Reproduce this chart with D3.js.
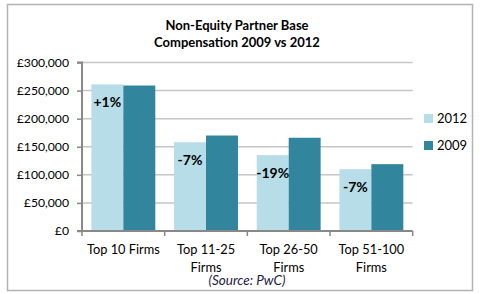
<!DOCTYPE html>
<html><head><meta charset="utf-8">
<script src="https://cdn.jsdelivr.net/npm/d3@7"></script>
<style>body{margin:0;background:#fff}svg{display:block}text{font-family:Lato,"Open Sans",sans-serif}</style>
</head><body>
<svg id="c" width="499" height="294"></svg>
<script>
const categories = ["Top 10 Firms", "Top 11-25 Firms", "Top 26-50 Firms", "Top 51-100 Firms"];
const categoryLines = [["Top 10 Firms"], ["Top 11-25", "Firms"], ["Top 26-50", "Firms"], ["Top 51-100", "Firms"]];
const seriesNames = ["2012", "2009"];
const values2012 = [261000, 158000, 135000, 110000];
const values2009 = [259000, 170000, 166000, 119000];
const changeLabels = ["+1%", "-7%", "-19%", "-7%"];
const yTicks = [0, 50000, 100000, 150000, 200000, 250000, 300000];
const titleLines = ["Non-Equity Partner Base", "Compensation 2009 vs 2012"];
const sourceText = "(Source: PwC)";
const colors = ["#b7dde8", "#31859c"];

const svg = d3.select("#c");
svg.append("rect").attr("x", 7.5).attr("y", 4.5).attr("width", 465).attr("height", 286)
  .attr("fill", "#fff").attr("stroke", "#b3b3b3").attr("stroke-width", 1.5);

const L = 82, R = 412.7, T = 62.5, B = 231;
const y = d3.scaleLinear().domain([0, 300000]).range([B, T]);
const x = d3.scaleBand().domain(categories).range([L, R]).paddingInner(0.227).paddingOuter(0.1135);
const xs = d3.scaleBand().domain(seriesNames).range([0, x.bandwidth()]);

// gridlines
svg.append("g").selectAll("line").data(yTicks.filter(d => d > 0)).join("line")
  .attr("x1", L).attr("x2", R).attr("y1", d => y(d)).attr("y2", d => y(d))
  .attr("stroke", "#c6c6c6").attr("stroke-width", 1.5);

// bars
const data = categories.map((c, i) => ({c, i, vals: [values2012[i], values2009[i]]}));
const g = svg.append("g").selectAll("g").data(data).join("g").attr("transform", d => `translate(${x(d.c)},0)`);
g.selectAll("rect").data(d => d.vals.map((v, k) => ({v, k}))).join("rect")
  .attr("x", d => xs(seriesNames[d.k])).attr("width", xs.bandwidth())
  .attr("y", d => y(d.v)).attr("height", d => B - y(d.v)).attr("fill", d => colors[d.k]);

// change labels
g.append("text").attr("x", xs("2012") + xs.bandwidth() / 2).attr("y", d => y(d.vals[0]) + 18)
  .attr("text-anchor", "middle").attr("dy", "0.35em").attr("font-weight", "bold").attr("font-size", 14)
  .attr("fill", "#000").text(d => changeLabels[d.i]);

// y axis
const ya = svg.append("g").attr("transform", `translate(${L},0)`)
  .call(d3.axisLeft(y).tickValues(yTicks).tickSize(5).tickPadding(8).tickFormat(d => "£" + d3.format(",")(d)));
ya.select(".domain").attr("stroke", "#888").attr("stroke-width", 2).attr("d", `M-5,${B}H0V${T}H-5`);
ya.selectAll(".tick line").attr("stroke", "#888").attr("stroke-width", 1.5);
ya.selectAll(".tick text").attr("font-size", 12.2).attr("fill", "#000").attr("font-family", "Lato");

// x axis
const xa = svg.append("g").attr("transform", `translate(0,${B})`);
xa.append("line").attr("x1", L).attr("x2", R).attr("stroke", "#888").attr("stroke-width", 2);
const step = x.step();
xa.selectAll(".tk").data(d3.range(categories.length + 1)).join("line").attr("class", "tk")
  .attr("x1", i => L + i * step).attr("x2", i => L + i * step).attr("y1", 0).attr("y2", 5)
  .attr("stroke", "#888").attr("stroke-width", 1.5);
xa.selectAll(".lbl").data(data).join("text").attr("class", "lbl")
  .attr("text-anchor", "middle").attr("font-size", 12.8).attr("fill", "#000")
  .attr("transform", d => `translate(${x(d.c) + x.bandwidth() / 2},0)`)
  .selectAll("tspan").data(d => categoryLines[d.i]).join("tspan")
  .attr("x", 0).attr("y", (d, k) => 22.5 + k * 18).text(d => d);

// title
svg.append("text").attr("x", 237).attr("y", 29.5).attr("text-anchor", "middle").attr("font-weight", "bold")
  .attr("font-size", 13).selectAll("tspan").data(titleLines).join("tspan")
  .attr("x", 237).attr("dy", (d, k) => k ? 17.5 : 0).text(d => d);

// legend
const lg = svg.append("g").selectAll("g").data(seriesNames).join("g")
  .attr("transform", (d, k) => `translate(424,${114 + k * 27})`);
lg.append("rect").attr("width", 9).attr("height", 9).attr("fill", (d, k) => colors[k]);
lg.append("text").attr("x", 13).attr("y", 4.5).attr("dy", "0.35em").attr("font-size", 13).text(d => d);

// source
svg.append("text").attr("x", 247).attr("y", 284.5).attr("text-anchor", "middle").attr("font-style", "italic")
  .attr("font-size", 13.5).attr("fill", "#1f2040").text(sourceText);
</script>
</body></html>
